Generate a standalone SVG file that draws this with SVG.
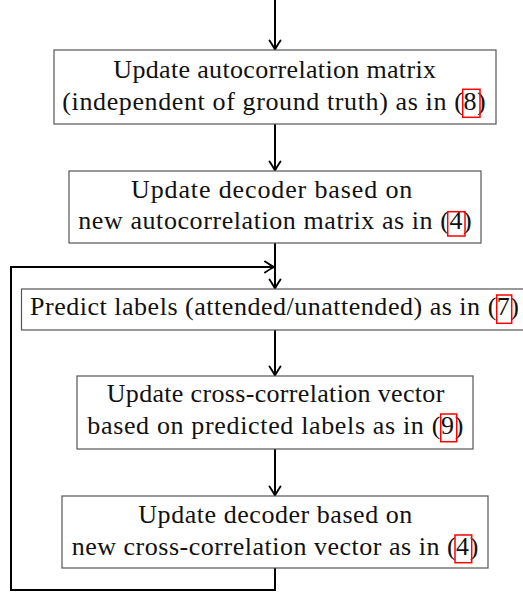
<svg xmlns="http://www.w3.org/2000/svg" width="523" height="592" viewBox="0 0 523 592">
<style>
.box{fill:#fff;stroke:#555;stroke-width:1.2}
.t{font-family:"Liberation Serif","Times New Roman",serif;font-size:26px;fill:#111}
.ref{fill:none;stroke:#f00;stroke-width:1.5}
.c{fill:none;stroke:#000;stroke-width:2}
</style>
<defs>
<marker id="ah" markerUnits="userSpaceOnUse" viewBox="-11 -7 13 14" refX="0" refY="0" markerWidth="13" markerHeight="14" orient="auto">
<path d="M-9,-5.5 Q-3,-1.5 0,0 Q-3,1.5 -9,5.5" fill="none" stroke="#000" stroke-width="1.9" stroke-linecap="round"/>
</marker>
</defs>
<rect width="523" height="592" fill="#fff"/>
<g id="connectors">
<path class="c" d="M275,0 V49.5" marker-end="url(#ah)"/>
<path class="c" d="M275,124 V170.5" marker-end="url(#ah)"/>
<path class="c" d="M275,243 V288.5" marker-end="url(#ah)"/>
<path class="c" d="M275,330 V375.5" marker-end="url(#ah)"/>
<path class="c" d="M275,449 V495.5" marker-end="url(#ah)"/>
<path class="c" d="M275,568 V590 H11 V267 H274" marker-end="url(#ah)"/>
</g>
<g id="n1">
<rect class="box" x="54" y="50" width="442" height="74"/>
<text class="t" x="113.3" y="78" textLength="322.7" lengthAdjust="spacing">Update autocorrelation matrix</text>
<text class="t" x="62.3" y="110" textLength="423.4" lengthAdjust="spacing">(independent of ground truth) as in (8)</text>
<rect class="ref" x="462.7" y="89.3" width="17.3" height="28"/>
</g>
<g id="n2">
<rect class="box" x="69" y="171" width="412" height="72"/>
<text class="t" x="131" y="198" textLength="281.3" lengthAdjust="spacing">Update decoder based on</text>
<text class="t" x="78.3" y="229" textLength="393.4" lengthAdjust="spacing">new autocorrelation matrix as in (4)</text>
<rect class="ref" x="447.7" y="211.7" width="17.3" height="24.3"/>
</g>
<g id="n3">
<rect class="box" x="21.5" y="289" width="520" height="41"/>
<text class="t" x="30" y="315" textLength="489" lengthAdjust="spacing">Predict labels (attended/unattended) as in (7)</text>
<rect class="ref" x="496.7" y="295" width="15" height="28.3"/>
</g>
<g id="n4">
<rect class="box" x="77" y="376" width="396" height="73"/>
<text class="t" x="106.7" y="402" textLength="337.6" lengthAdjust="spacing">Update cross-correlation vector</text>
<text class="t" x="87.3" y="434" textLength="376" lengthAdjust="spacing">based on predicted labels as in (9)</text>
<rect class="ref" x="440.7" y="414" width="16" height="27.7"/>
</g>
<g id="n5">
<rect class="box" x="62" y="496" width="426" height="72"/>
<text class="t" x="138.3" y="523" textLength="274" lengthAdjust="spacing">Update decoder based on</text>
<text class="t" x="71.7" y="555" textLength="406.6" lengthAdjust="spacing">new cross-correlation vector as in (4)</text>
<rect class="ref" x="455" y="535" width="16.7" height="27.7"/>
</g>
</svg>
